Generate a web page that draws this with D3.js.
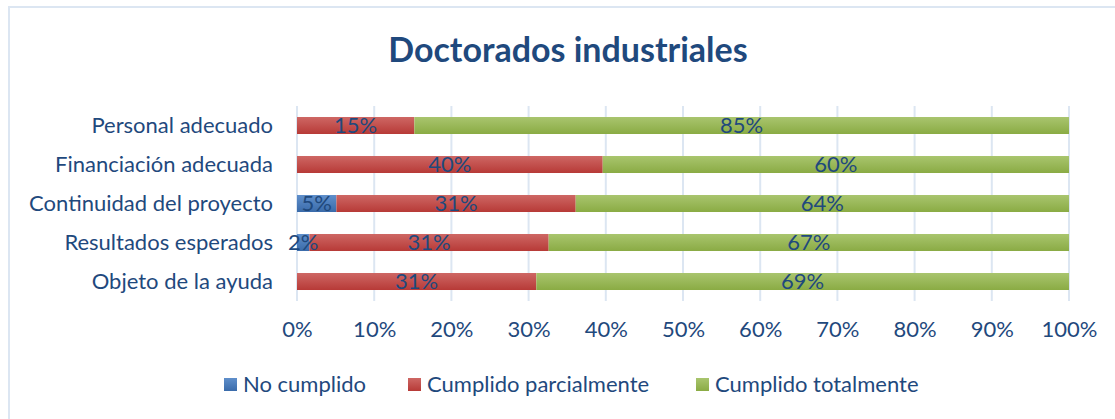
<!DOCTYPE html>
<html>
<head>
<meta charset="utf-8">
<script src="https://cdn.jsdelivr.net/npm/d3@7"></script>
<style>
  body { margin: 0; background: #fff; }
  text { font-family: Lato, "Open Sans", sans-serif; }
</style>
</head>
<body>
<div id="wrapper"></div>
<script>
// categories, top to bottom
var categories = ["Personal adecuado", "Financiación adecuada", "Continuidad del proyecto", "Resultados esperados", "Objeto de la ayuda"];
var seriesNames = ["No cumplido", "Cumplido parcialmente", "Cumplido totalmente"];
// values in percent
var noCumplido = [0, 0, 5.1, 1.6, 0];
var parcial = [15.2, 39.6, 31.0, 31.0, 31.0];
var total = [84.8, 60.4, 63.9, 67.4, 69.0];
var ticks = [0, 10, 20, 30, 40, 50, 60, 70, 80, 90, 100];

var colors = [
  {top: "#5F8FCB", bot: "#3A6BAA"},
  {top: "#CE6764", bot: "#B73A37"},
  {top: "#A9C56E", bot: "#8AAB44"}
];
var textColor = "#1F497D";
var fontSize = "22px";

var width = 1115, height = 419;
var svg = d3.select("#wrapper").append("svg")
    .attr("width", width)
    .attr("height", height);

// gradients for bars
var defs = svg.append("defs");
colors.forEach(function (c, i) {
  var g = defs.append("linearGradient")
      .attr("id", "grad" + i)
      .attr("x1", 0).attr("y1", 0).attr("x2", 0).attr("y2", 1);
  g.append("stop").attr("offset", "0%").attr("stop-color", c.top);
  g.append("stop").attr("offset", "100%").attr("stop-color", c.bot);
});

// chart frame
svg.append("rect")
    .attr("x", 9).attr("y", 7)
    .attr("width", 1130).attr("height", 430)
    .attr("fill", "none")
    .attr("stroke", "#DCE6F2")
    .attr("stroke-width", 2);

// title
svg.append("text")
    .attr("x", 568)
    .attr("y", 62)
    .attr("text-anchor", "middle")
    .style("font-size", "34px")
    .style("font-weight", "bold")
    .attr("fill", textColor)
    .text("Doctorados industriales");

var x = d3.scaleLinear().domain([0, 100]).range([297, 1069]);
var y = d3.scaleBand().domain(categories).range([106, 301])
    .paddingInner(0.564).paddingOuter(0.282);

// gridlines
svg.append("g").selectAll("line")
    .data(ticks)
  .enter().append("line")
    .attr("x1", function (d) { return x(d); })
    .attr("x2", function (d) { return x(d); })
    .attr("y1", 106).attr("y2", 301)
    .attr("stroke", "#DCE6F2")
    .attr("stroke-width", 2);

// x axis tick labels
var xAxis = svg.append("g")
    .attr("transform", "translate(0,301)")
    .call(d3.axisBottom(x).tickValues(ticks).tickSize(0).tickPadding(20)
      .tickFormat(function (d) { return d + "%"; }));
xAxis.select(".domain").remove();
xAxis.selectAll("text")
    .attr("fill", textColor)
    .style("font-size", fontSize)
    .style("font-family", "Lato, sans-serif");

// y axis category labels
var yAxis = svg.append("g")
    .attr("transform", "translate(297,0)")
    .call(d3.axisLeft(y).tickSize(0).tickPadding(24));
yAxis.select(".domain").remove();
yAxis.selectAll("text")
    .attr("fill", textColor)
    .style("font-size", fontSize)
    .style("font-family", "Lato, sans-serif");

// stacked bars
var table = categories.map(function (c, i) {
  return {cat: c, v: [noCumplido[i], parcial[i], total[i]]};
});
var segs = [];
table.forEach(function (row) {
  var acc = 0;
  row.v.forEach(function (v, s) {
    segs.push({cat: row.cat, s: s, x0: acc, x1: acc + v, v: v});
    acc += v;
  });
});

svg.append("g").selectAll("rect")
    .data(segs.filter(function (d) { return d.v > 0; }))
  .enter().append("rect")
    .attr("x", function (d) { return x(d.x0); })
    .attr("width", function (d) { return x(d.x1) - x(d.x0); })
    .attr("y", function (d) { return y(d.cat); })
    .attr("height", y.bandwidth())
    .attr("fill", function (d) { return "url(#grad" + d.s + ")"; });

// data labels
svg.append("g").selectAll("text")
    .data(segs.filter(function (d) { return d.v > 0; }))
  .enter().append("text")
    .attr("x", function (d) { return (x(d.x0) + x(d.x1)) / 2; })
    .attr("y", function (d) { return y(d.cat) + y.bandwidth() / 2; })
    .attr("dy", "0.36em")
    .attr("text-anchor", "middle")
    .attr("fill", textColor)
    .style("font-size", fontSize)
    .text(function (d) { return Math.round(d.v) + "%"; });

// legend
var legendX = [224, 408, 696];
var legend = svg.append("g").selectAll("g")
    .data(seriesNames)
  .enter().append("g")
    .attr("transform", function (d, i) { return "translate(" + legendX[i] + ",378)"; });
legend.append("rect")
    .attr("width", 13).attr("height", 13)
    .attr("fill", function (d, i) { return "url(#grad" + i + ")"; });
legend.append("text")
    .attr("x", 19).attr("y", 6.5)
    .attr("dy", "0.36em")
    .attr("fill", textColor)
    .style("font-size", fontSize)
    .text(function (d) { return d; });
</script>
</body>
</html>
